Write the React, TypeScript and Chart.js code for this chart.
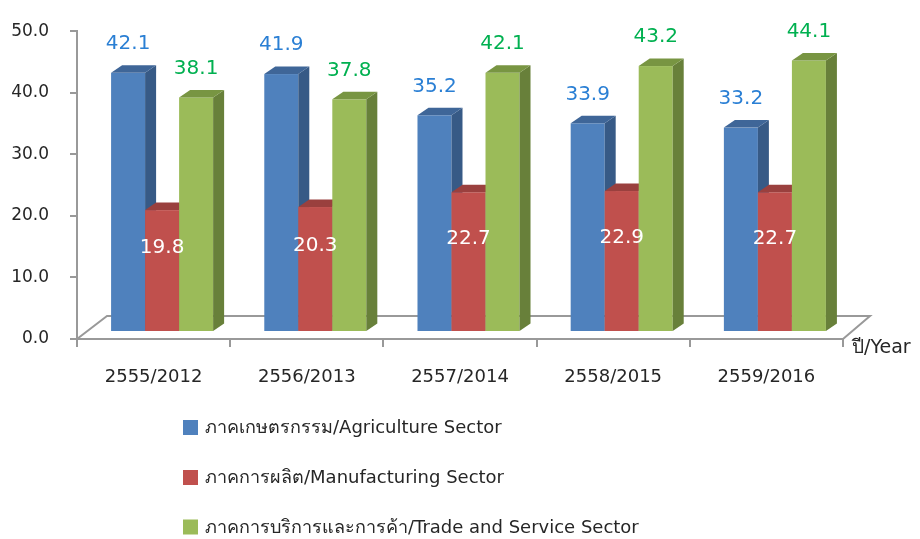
import React, { useEffect, useRef } from "react";
import { Chart, registerables } from "chart.js";
Chart.register(...registerables);

const categories = ["2555/2012", "2556/2013", "2557/2014", "2558/2015", "2559/2016"];
const agriculture = [42.1, 41.9, 35.2, 33.9, 33.2];
const manufacturing = [19.8, 20.3, 22.7, 22.9, 22.7];
const tradeService = [38.1, 37.8, 42.1, 43.2, 44.1];
const seriesLabels = [
  "ภาคเกษตรกรรม/Agriculture Sector",
  "ภาคการผลิต/Manufacturing Sector",
  "ภาคการบริการและการค้า/Trade and Service Sector",
];
const yTicks = [0, 10, 20, 30, 40, 50];
const xAxisTitle = "ปี/Year";

const FONT = '"DejaVu Sans", "Noto Sans", sans-serif';
const AXIS = "#999999";
const TEXT = "#262626";

const faceColors = [
  { front: "#4F81BD", side: "#375A86", top: "#3F6698", label: "#2A7FD4", labelMode: "above" },
  { front: "#C0504D", side: "#8C3A38", top: "#9A403E", label: "#FFFFFF", labelMode: "inside" },
  { front: "#9BBB59", side: "#68803A", top: "#789542", label: "#00B050", labelMode: "above" },
];

// 3D geometry
const OX = 8.5, OY = -7; // bar offset into depth
const DX = 11, DY = -7.5; // bar depth
const FX = 30, FY = -23; // floor depth

const threeD = {
  id: "threeD",
  beforeDatasetsDraw(chart: any) {
    const { ctx, chartArea } = chart;
    const { left, right, bottom } = chartArea;
    ctx.save();
    ctx.strokeStyle = AXIS;
    ctx.lineWidth = 2;
    ctx.beginPath();
    ctx.moveTo(left, bottom);
    ctx.lineTo(left + FX, bottom + FY);
    ctx.lineTo(right + FX - 3, bottom + FY);
    ctx.lineTo(right, bottom);
    ctx.stroke();
    ctx.restore();
  },
  beforeDatasetDraw() {
    return false;
  },
  afterDatasetsDraw(chart: any) {
    const { ctx } = chart;
    const nCat = chart.data.labels.length;
    const nDs = chart.data.datasets.length;
    ctx.save();
    for (let j = 0; j < nCat; j++) {
      for (let i = 0; i < nDs; i++) {
        const el = chart.getDatasetMeta(i).data[j];
        const c = faceColors[i];
        const x0 = el.x - el.width / 2 + OX;
        const x1 = el.x + el.width / 2 + OX;
        const yt = el.y + OY;
        const yb = el.base + OY;
        ctx.fillStyle = c.front;
        ctx.fillRect(x0, yt, x1 - x0, yb - yt);
        ctx.fillStyle = c.side;
        ctx.beginPath();
        ctx.moveTo(x1, yt);
        ctx.lineTo(x1 + DX, yt + DY);
        ctx.lineTo(x1 + DX, yb + DY);
        ctx.lineTo(x1, yb);
        ctx.closePath();
        ctx.fill();
        ctx.fillStyle = c.top;
        ctx.beginPath();
        ctx.moveTo(x0, yt);
        ctx.lineTo(x0 + DX, yt + DY);
        ctx.lineTo(x1 + DX, yt + DY);
        ctx.lineTo(x1, yt);
        ctx.closePath();
        ctx.fill();
      }
    }
    ctx.font = `20px ${FONT}`;
    ctx.textAlign = "center";
    ctx.textBaseline = "middle";
    for (let i = 0; i < nDs; i++) {
      const meta = chart.getDatasetMeta(i);
      const c = faceColors[i];
      meta.data.forEach((el: any, j: number) => {
        const v = chart.data.datasets[i].data[j] as number;
        const cx = el.x + OX;
        let cy;
        if (c.labelMode === "above") cy = el.y + OY - 29;
        else cy = (el.y + el.base) / 2 + OY - 23;
        ctx.fillStyle = c.label;
        ctx.fillText(v.toFixed(1), cx, cy);
      });
    }
    ctx.restore();
  },
  afterDraw(chart: any) {
    const { ctx, chartArea } = chart;
    ctx.save();
    ctx.font = `19px ${FONT}`;
    ctx.fillStyle = TEXT;
    ctx.textAlign = "left";
    ctx.textBaseline = "middle";
    ctx.fillText(xAxisTitle, chartArea.right + 9, chartArea.bottom + 9);
    const rows = [427.5, 477.5, 527];
    chart.data.datasets.forEach((ds: any, i: number) => {
      const y = rows[i];
      ctx.fillStyle = ds.backgroundColor;
      ctx.fillRect(183, y - 7.5, 15, 15);
      ctx.fillStyle = TEXT;
      ctx.font = `18px ${FONT}`;
      ctx.fillText(ds.label, 205, y + 1);
    });
    ctx.restore();
  },
};

export default function App() {
  const ref = useRef<HTMLCanvasElement>(null);
  useEffect(() => {
    document.body.style.margin = "0";
    const chart = new Chart(ref.current!, {
      type: "bar",
      data: {
        labels: categories,
        datasets: [
          { label: seriesLabels[0], data: agriculture, backgroundColor: faceColors[0].front },
          { label: seriesLabels[1], data: manufacturing, backgroundColor: faceColors[1].front },
          { label: seriesLabels[2], data: tradeService, backgroundColor: faceColors[2].front },
        ],
      },
      options: {
        responsive: false,
        animation: false,
        events: [],
        layout: { padding: { left: 0, right: 77, top: 23.5, bottom: 0 } },
        datasets: { bar: { categoryPercentage: 0.666, barPercentage: 1 } },
        plugins: { legend: { display: false }, tooltip: { enabled: false } },
        scales: {
          x: {
            grid: { offset: true, drawOnChartArea: false, tickLength: 8, color: AXIS, lineWidth: 2 },
            border: { color: AXIS, width: 2 },
            ticks: { font: { size: 18, family: FONT }, color: TEXT, padding: 20, maxRotation: 0 },
            afterFit: (s: any) => { s.height = 200; },
          },
          y: {
            min: 0,
            max: 50,
            afterBuildTicks: (s: any) => { s.ticks = yTicks.map((v) => ({ value: v })); },
            grid: { drawOnChartArea: false, tickLength: 7, color: AXIS, lineWidth: 2 },
            border: { color: AXIS, width: 2 },
            ticks: {
              font: { size: 17, family: FONT },
              color: TEXT,
              padding: 21,
              callback: (v: any) => Number(v).toFixed(1),
            },
            afterFit: (s: any) => { s.width = 77; },
          },
        },
      },
      plugins: [threeD],
    });
    return () => chart.destroy();
  }, []);
  return <canvas ref={ref} width={920} height={539} style={{ display: "block" }} />;
}
